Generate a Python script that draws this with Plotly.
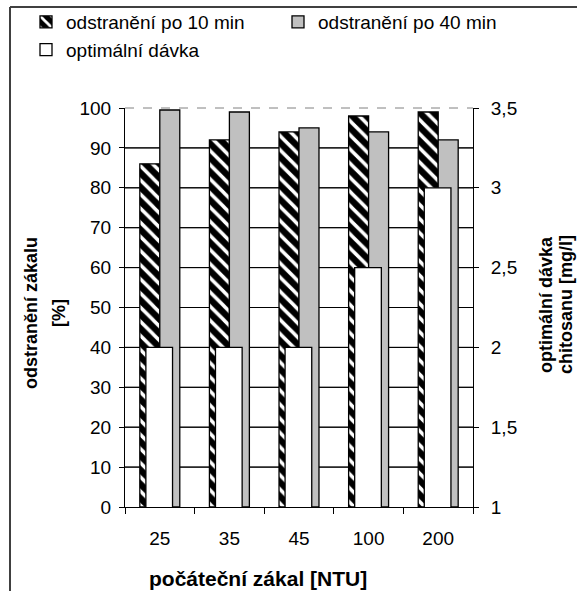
import plotly.graph_objects as go

categories = ["25", "35", "45", "100", "200"]
removal_10min = [86, 92, 94, 98, 99]
removal_40min = [99.5, 99, 95, 94, 92]
optimal_dose = [2, 2, 2, 2.5, 3]

left_ticks = list(range(0, 101, 10))
right_ticks = [1, 1.5, 2, 2.5, 3, 3.5]

FONT = "Liberation Sans, Arial, sans-serif"
W, H = 577, 591
ML, MR, MT, MB = 125, 104, 108, 84
PW, PH = W - ML - MR, H - MT - MB

# bar geometry (in category units)
W10, OFF10 = 0.287, -0.287
W40, OFF40 = 0.287, 0.0
WD, OFFD = 0.383, -0.2
Y2_MIN, Y2_MAX = 1.0, 3.5

pos = list(range(len(categories)))
x_lo, x_hi = -0.5, len(categories) - 0.5
bounds = [i - 0.5 for i in range(len(categories) + 1)]


def px_x(p):
    return (p - ML) / PW


def px_y(p):
    return (H - MB - p) / PH


def dose_on_left(d):
    return (d - Y2_MIN) / (Y2_MAX - Y2_MIN) * 100


# gridlines at the inner left ticks, visible only where no bar covers them
gx, gy = [], []
for v in left_ticks[1:-1]:
    covers = []
    for i in pos:
        if removal_10min[i] > v:
            covers.append((i + OFF10, i + OFF10 + W10))
        if removal_40min[i] > v:
            covers.append((i + OFF40, i + OFF40 + W40))
        if dose_on_left(optimal_dose[i]) > v:
            covers.append((i + OFFD, i + OFFD + WD))
    covers.sort()
    cur = x_lo
    for a, b in covers:
        if a > cur:
            gx += [cur, a, None]
            gy += [v, v, None]
        cur = max(cur, b)
    if cur < x_hi:
        gx += [cur, x_hi, None]
        gy += [v, v, None]

fig = go.Figure()
# grid on the main (left) axis - also keeps the left axis drawn
fig.add_scatter(x=gx, y=gy, mode="lines", line=dict(color="black", width=1),
                showlegend=False, hoverinfo="skip")
fig.add_bar(
    x=pos, y=removal_10min, name="odstranění po 10 min",
    width=W10, offset=OFF10, yaxis="y2", legend="legend",
    marker=dict(color="black", line=dict(color="black", width=1.3),
                pattern=dict(shape="\\", fgcolor="white", bgcolor="black",
                             size=10, solidity=0.35, fillmode="replace")),
)
fig.add_bar(
    x=pos, y=removal_40min, name="odstranění po 40 min",
    width=W40, offset=OFF40, yaxis="y2", legend="legend2",
    marker=dict(color="#c0c0c0", line=dict(color="black", width=1.3)),
)
fig.add_scatter(x=gx, y=gy, yaxis="y2", mode="lines",
                line=dict(color="black", width=1), showlegend=False,
                hoverinfo="skip")
fig.add_bar(
    x=pos, y=optimal_dose, name="optimální dávka",
    width=WD, offset=OFFD, yaxis="y3", legend="legend",
    marker=dict(color="white", line=dict(color="black", width=1.3)),
)

fig.update_layout(
    width=W, height=H,
    margin=dict(l=ML, r=MR, t=MT, b=MB, autoexpand=False),
    paper_bgcolor="white", plot_bgcolor="rgba(0,0,0,0)",
    font=dict(family=FONT, size=19, color="black"),
    separators=", ",
    barmode="overlay",
    xaxis=dict(range=[x_lo, x_hi], tickvals=pos, ticktext=categories,
               showline=True, linecolor="black", linewidth=1, ticks="",
               showgrid=False, zeroline=False, ticklabelstandoff=14,
               minor=dict(tickvals=bounds, ticks="outside", ticklen=6,
                          tickcolor="black", showgrid=False)),
    yaxis=dict(range=[0, 100], tickvals=left_ticks, showline=True, linecolor="black",
               ticks="outside", ticklen=5, tickcolor="black", showgrid=False,
               zeroline=False, ticklabelstandoff=4),
    yaxis2=dict(range=[0, 100], overlaying="y", visible=False, showgrid=False,
                zeroline=False),
    yaxis3=dict(range=[Y2_MIN, Y2_MAX], tickvals=right_ticks, overlaying="y",
                side="right", showline=True, linecolor="black", ticks="outside",
                ticklen=5, tickcolor="black", showgrid=False, zeroline=False,
                ticklabelstandoff=8),
    legend=dict(x=px_x(26), y=px_y(3), xanchor="left", yanchor="top",
                orientation="v", bgcolor="rgba(0,0,0,0)", font=dict(size=19),
                tracegroupgap=0),
    legend2=dict(x=px_x(278), y=px_y(3), xanchor="left", yanchor="top",
                 orientation="v", bgcolor="rgba(0,0,0,0)", font=dict(size=19)),
    shapes=[
        dict(type="line", xref="paper", yref="paper", x0=0, x1=1, y0=1, y1=1,
             line=dict(color="#808080", width=1, dash="dash"), layer="below"),
        dict(type="line", xref="paper", yref="paper", x0=px_x(10), x1=px_x(10),
             y0=px_y(H + 5), y1=px_y(7), line=dict(color="#404040", width=2)),
        dict(type="line", xref="paper", yref="paper", x0=px_x(10), x1=px_x(W + 5),
             y0=px_y(7), y1=px_y(7), line=dict(color="#404040", width=2)),
    ],
    annotations=[
        dict(text="<b>odstranění zákalu</b>", xref="paper", yref="paper",
             x=px_x(31), y=px_y(313), textangle=-90, showarrow=False,
             xanchor="center", yanchor="middle", font=dict(size=18)),
        dict(text="<b>[%]</b>", xref="paper", yref="paper",
             x=px_x(59), y=px_y(313), textangle=-90, showarrow=False,
             xanchor="center", yanchor="middle", font=dict(size=18)),
        dict(text="<b>optimální dávka</b>", xref="paper", yref="paper",
             x=px_x(546), y=px_y(305), textangle=-90, showarrow=False,
             xanchor="center", yanchor="middle", font=dict(size=18)),
        dict(text="<b>chitosanu [mg/l]</b>", xref="paper", yref="paper",
             x=px_x(566), y=px_y(305), textangle=-90, showarrow=False,
             xanchor="center", yanchor="middle", font=dict(size=18)),
        dict(text="<b>počáteční zákal [NTU]</b>", xref="paper", yref="paper",
             x=px_x(258), y=px_y(578), showarrow=False,
             xanchor="center", yanchor="middle", font=dict(size=21)),
    ],
)

fig.write_html("out.html")
